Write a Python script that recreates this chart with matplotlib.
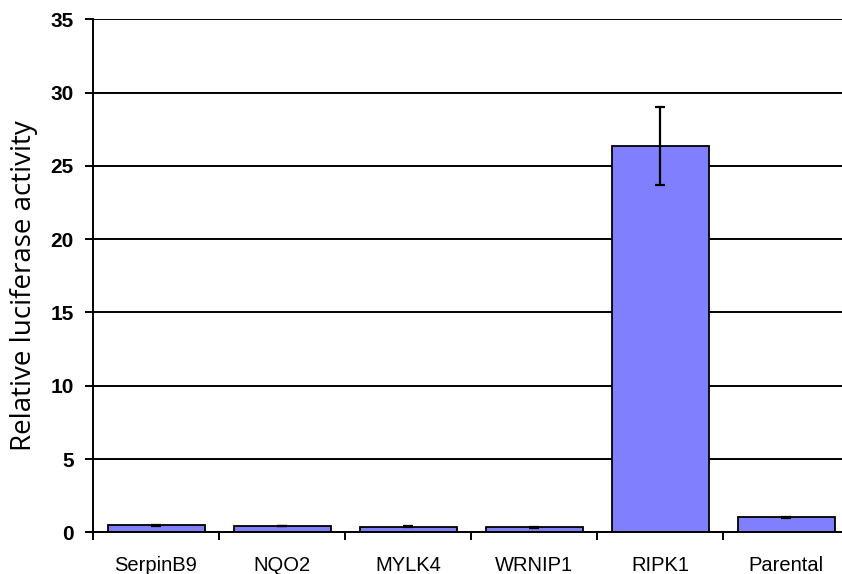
import numpy as np
from matplotlib import pyplot as plt

genes = ['SerpinB9', 'NQO2', 'MYLK4', 'WRNIP1', 'RIPK1', 'Parental']
activity = [0.47, 0.43, 0.38, 0.35, 26.35, 1.02]
errors = [0.05, 0.02, 0.04, 0.03, 2.65, 0.02]
yticks = [0, 5, 10, 15, 20, 25, 30, 35]

fig = plt.figure(figsize=(8.42, 5.74), dpi=100)
# the plot area runs a little past the right edge of the picture
ax = fig.add_axes([0.1105, 0.0726, 0.898, 0.8937])

x = np.arange(len(genes))
ax.bar(x, activity, width=0.77, color='#8080ff', edgecolor='black', linewidth=1.3, zorder=3)
ax.errorbar(x, activity, yerr=errors, fmt='none', ecolor='black', elinewidth=1.6,
            capsize=3.5, capthick=1.6, zorder=4)

ax.set_xlim(-0.5, len(genes) - 0.5)
ax.set_ylim(0, 35)
ax.set_yticks(yticks)
ax.set_yticklabels([str(t) for t in yticks], fontsize=15, fontweight='bold',
                   family='Liberation Sans')
ax.yaxis.grid(True, color='black', linewidth=1.4, zorder=0)

# category labels centred, tick marks on the boundaries
ax.set_xticks(x)
ax.set_xticklabels(genes, fontsize=14.5, family='Liberation Sans')
ax.tick_params(axis='x', length=0, pad=17)
ax.set_xticks(np.arange(len(genes) + 1) - 0.5, minor=True)
ax.tick_params(axis='x', which='minor', length=6, width=1.4, direction='out')
ax.tick_params(axis='y', length=6, width=1.4, direction='out', pad=8)

for s in ['top', 'right']:
    ax.spines[s].set_visible(False)
ax.spines['left'].set_linewidth(1.4)
ax.spines['bottom'].set_linewidth(1.4)
ax.spines['bottom'].set_zorder(5)

ax.set_ylabel('Relative luciferase activity', fontsize=20, family='Open Sans')
ax.yaxis.set_label_coords(-0.073, 0.48)

plt.savefig('out.png', dpi=100)
